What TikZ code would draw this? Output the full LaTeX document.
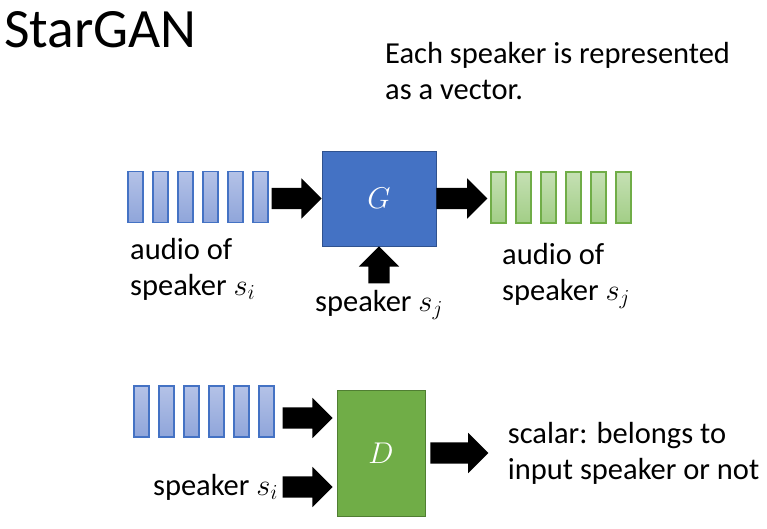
\documentclass[tikz,border=0pt]{standalone}
\usepackage{fix-cm}
\usepackage{fontspec}
\setmainfont{Carlito}
\usepackage{tikz}
\usetikzlibrary{shapes.arrows,positioning}

\definecolor{gblue}{HTML}{4472C4}
\definecolor{gblueline}{HTML}{2F528F}
\definecolor{btop}{HTML}{B4C2E7}
\definecolor{bbot}{HTML}{8FA5DA}
\definecolor{dgreen}{HTML}{70AD47}
\definecolor{dgreenline}{HTML}{507E32}
\definecolor{gtop}{HTML}{C5E0B4}
\definecolor{gbot}{HTML}{A2CE86}

\tikzset{
  bluebar/.style={draw=gblue, line width=1.5pt, top color=btop, bottom color=bbot,
    minimum width=15pt, minimum height=51pt, inner sep=0pt},
  greenbar/.style={draw=dgreen, line width=1.5pt, top color=gtop, bottom color=gbot,
    minimum width=15pt, minimum height=51pt, inner sep=0pt},
  blockarrow/.style={single arrow, fill=black, draw=none, inner sep=10.5pt,
    single arrow head extend=9.5pt, minimum width=0pt},
  lbl/.style={font=\fontsize{30.5}{36}\selectfont, inner sep=0pt, align=left},
}

\begin{document}
\begin{tikzpicture}[x=1pt,y=-1pt]
\useasboundingbox (0,0) rectangle (767,528);
%Title
\node[anchor=base west, inner sep=0pt, font=\fontsize{55.5}{60}\selectfont] (title) at (4,47) {StarGAN};
\node[lbl, anchor=north west] (note) at (385,42) {Each speaker is represented\\as a vector.};
%G
\node[draw=gblueline, fill=gblue, minimum width=114pt, minimum height=95pt, text=white,
  font=\fontsize{30}{36}\selectfont] (G) at (379,198.5) {$G$};
\foreach \i in {0,...,5}
  \node[bluebar] (in\i) at (135.5+25*\i,197) {};
\foreach \i in {0,...,5}
  \node[greenbar] (out\i) at (498.5+25*\i,197.5) {};
\node[blockarrow, minimum height=50pt, anchor=tip] (gin) at (G.west) {};
\node[blockarrow, minimum height=51pt, anchor=tail] (gout) at (G.east) {};
\node[blockarrow, minimum height=37pt, shape border rotate=90, anchor=tip] (gsp) at (G.south) {};
%Text
\node[lbl, anchor=north west] (ain) at (130,238) {audio of\\speaker $s_i$};
\node[lbl, anchor=north] (spj) at (gsp.tail |- 0,290) {speaker $s_j$};
\node[lbl, anchor=north west] (aout) at (502,243) {audio of\\speaker $s_j$};
%D
\node[draw=dgreenline, fill=dgreen, minimum width=88pt, minimum height=126pt, text=white,
  font=\fontsize{30}{36}\selectfont] (D) at (381,453) {$D$};
\foreach \i in {0,...,5}
  \node[bluebar] (db\i) at (141.5+25*\i,411.5) {};
\node[blockarrow, minimum height=50pt, anchor=tip] (din) at ([xshift=-4pt,yshift=35pt]D.west) {};
\node[blockarrow, minimum height=50pt, anchor=tip] (dsp) at ([xshift=-4pt,yshift=-34pt]D.west) {};
\node[blockarrow, minimum height=58pt, anchor=tail] (dout) at ([xshift=5pt]D.east) {};
\node[lbl, anchor=east] (spi) at ([xshift=-4pt]dsp.tail) {speaker $s_i$};
\node[lbl, anchor=west] (res) at ([xshift=19pt]dout.tip) {scalar: belongs to\\input speaker or not};
\end{tikzpicture}
\end{document}
